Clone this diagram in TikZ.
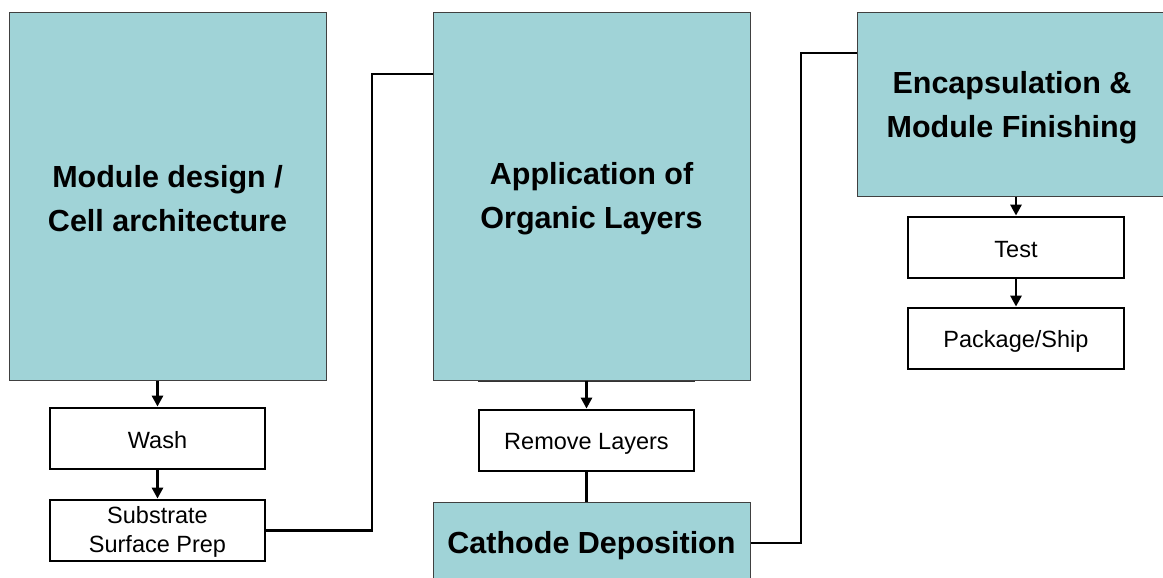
\documentclass[tikz,border=0pt]{standalone}
\usepackage{fontspec}
\setmainfont{Liberation Sans}
\usetikzlibrary{arrows.meta}
\definecolor{teal1}{RGB}{160,211,215}
\begin{document}
\begin{tikzpicture}[x=1pt,y=-1pt,
  bigbox/.style={draw=black!75,line width=1pt,fill=teal1,inner sep=0pt},
  bigtxt/.style={align=center,inner sep=0pt,font=\fontsize{30.5}{44}\selectfont\bfseries},
  smallbox/.style={draw=black,line width=2.8pt,fill=white,inner sep=0pt,
    minimum width=215pt,minimum height=61pt},
  smalltxt/.style={align=center,inner sep=0pt,font=\fontsize{23.5}{29}\selectfont},
  conn/.style={draw=black,line width=2.8pt},
  arr/.style={conn,-{Triangle[length=11pt,width=11pt]}}]
\useasboundingbox (0,0) rectangle (1163,578);
\fill[white] (0,0) rectangle (1163,578);
\node[bigbox,minimum width=317pt,minimum height=367pt] (b1) at (167.5,196.5) {};
\node[smallbox] (wash) at (157.5,438.5) {};
\node[smallbox] (sub) at (157.5,530.5) {};
\node[bigbox,minimum width=317pt,minimum height=367pt] (b2) at (591.5,196.5) {};
\node[smallbox] (rem) at (586.5,440.5) {};
\node[bigbox,minimum width=317pt,minimum height=82pt] (cat) at (591.5,543) {};
\node[bigbox,minimum width=310pt,minimum height=183pt] (b3) at (1012,104.5) {};
\node[smallbox,minimum width=216pt] (test) at (1016,247.5) {};
\node[smallbox,minimum width=216pt] (pack) at (1016,338.5) {};
\node[bigtxt] (t1) at ([yshift=-2pt]b1.center) {Module design /\\Cell architecture};
\node[bigtxt] (t2) at ([yshift=-2pt]b2.center) {Application of\\Organic Layers};
\node[bigtxt] (t3) at ([yshift=-3pt]cat.center) {Cathode Deposition};
\node[bigtxt] (t4) at ([yshift=-3pt]b3.center) {Encapsulation \&\\Module Finishing};
\node[smalltxt] (t5) at ([yshift=-2pt]wash.center) {Wash};
\node[smalltxt] (t6) at ([yshift=-1pt]sub.center) {Substrate\\Surface Prep};
\node[smalltxt] (t7) at ([yshift=-3pt]rem.center) {Remove Layers};
\node[smalltxt] (t8) at ([yshift=-2pt]test.center) {Test};
\node[smalltxt] (t9) at ([yshift=-3pt]pack.center) {Package/Ship};
\draw[black!80,line width=1pt] (478,381.5) -- (695,381.5);
\coordinate (j1) at (372,74);
\coordinate (j2) at (801,53);
\draw[arr] (b1.south -| wash.north) -- (wash.north);
\draw[arr] (wash.south) -- (sub.north);
\draw[conn] (sub.east) -| (j1) -- (j1 -| b2.west);
\draw[arr] (b2.south -| rem.north) -- (rem.north);
\draw[conn] (rem.south) -- (cat.north -| rem.south);
\draw[conn] (cat.east) -| (j2) -- (j2 -| b3.west);
\draw[arr] (b3.south -| test.north) -- (test.north);
\draw[arr] (test.south) -- (pack.north);
\end{tikzpicture}
\end{document}
